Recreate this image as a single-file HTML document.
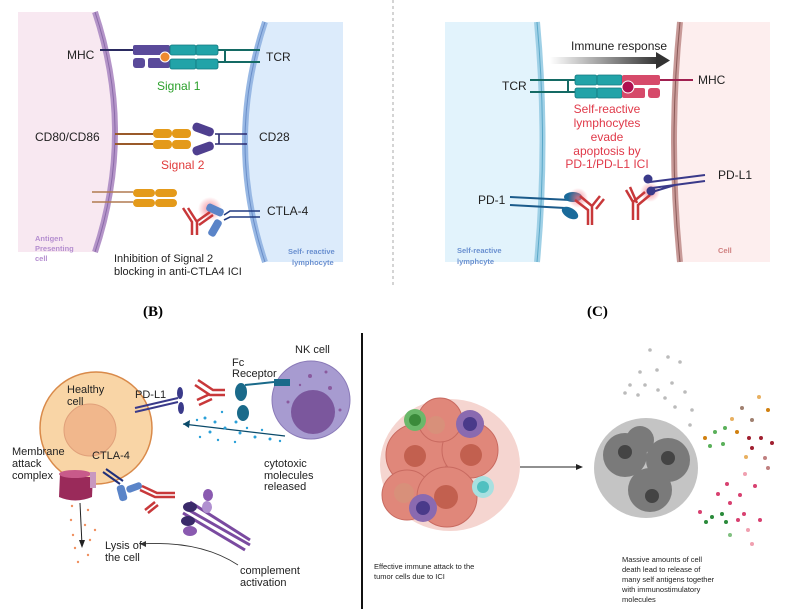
<!DOCTYPE html>
<html><head><meta charset="utf-8"><style>
html,body{margin:0;padding:0;background:#fff;width:800px;height:609px;overflow:hidden}
svg{display:block}
text{font-family:"Liberation Sans",sans-serif}
</style></head><body>
<svg width="800" height="609" viewBox="0 0 800 609" xmlns="http://www.w3.org/2000/svg">
<defs>
<linearGradient id="ar" x1="0" x2="1"><stop offset="0" stop-color="#fff"/><stop offset="1" stop-color="#333"/></linearGradient>
<radialGradient id="glow"><stop offset="0" stop-color="#f07080" stop-opacity=".8"/><stop offset="1" stop-color="#f07080" stop-opacity="0"/></radialGradient>
</defs>
<!-- Panel B -->
<path d="M95 12 Q135 132 95 252 L18 252 L18 12Z" fill="#f8e8f1"/>
<path d="M95 12 Q135 132 95 252" fill="none" stroke="#b494c8" stroke-width="6"/>
<path d="M95 12 Q135 132 95 252" fill="none" stroke="#8a6aa8" stroke-width="1"/>
<path d="M265 22 Q225 142 265 262 L343 262 L343 22Z" fill="#dcebfb"/>
<path d="M265 22 Q225 142 265 262" fill="none" stroke="#98b8e4" stroke-width="6"/>
<path d="M265 22 Q225 142 265 262" fill="none" stroke="#6a8ec8" stroke-width="1"/>
<line x1="100" y1="50" x2="133" y2="50" stroke="#2a2a60" stroke-width="2"/>
<rect x="133" y="45" width="37" height="10" rx="2" fill="#5a4a9a"/>
<rect x="133" y="58" width="12" height="10" rx="3" fill="#5a4a9a"/>
<rect x="148" y="58" width="22" height="10" rx="2" fill="#5a4a9a"/>
<rect x="170" y="45" width="26" height="10" rx="2" fill="#22a3a8" stroke="#137a80" stroke-width=".8"/>
<rect x="196" y="45" width="22" height="10" rx="2" fill="#22a3a8" stroke="#137a80" stroke-width=".8"/>
<rect x="170" y="59" width="26" height="10" rx="2" fill="#22a3a8" stroke="#137a80" stroke-width=".8"/>
<rect x="196" y="59" width="22" height="10" rx="2" fill="#22a3a8" stroke="#137a80" stroke-width=".8"/>
<circle cx="165" cy="57" r="5" fill="#ee8a30" stroke="#fff" stroke-width="1"/>
<path d="M218 50H260M218 62H260M225 50V62" stroke="#146a64" stroke-width="2" fill="none"/>
<text x="67" y="59" font-size="12" fill="#222">MHC</text>
<text x="266" y="61" font-size="12" fill="#222">TCR</text>
<text x="157" y="90" font-size="12" fill="#2aa02a">Signal 1</text>
<path d="M115 134H153M115 144H153" stroke="#9a5a2a" stroke-width="2"/>
<rect x="153" y="129" width="19" height="9" rx="4" fill="#e49a1a"/><rect x="172" y="129" width="19" height="9" rx="4" fill="#e49a1a"/>
<rect x="153" y="140" width="19" height="9" rx="4" fill="#e49a1a"/><rect x="172" y="140" width="19" height="9" rx="4" fill="#e49a1a"/>
<rect x="192" y="125" width="22" height="9" rx="4" fill="#4f3f8f" transform="rotate(20 203 130)"/>
<rect x="192" y="144" width="22" height="9" rx="4" fill="#4f3f8f" transform="rotate(-20 203 148)"/>
<path d="M215 134H247M215 144H247M219 134V144" stroke="#2a2a70" stroke-width="1.6" fill="none"/>
<text x="35" y="141" font-size="12" fill="#222">CD80/CD86</text>
<text x="259" y="141" font-size="12" fill="#222">CD28</text>
<text x="161" y="169" font-size="12" fill="#e03a3a">Signal 2</text>
<path d="M92 192H133M92 202H133" stroke="#b07a50" stroke-width="1.5"/>
<rect x="133" y="189" width="22" height="8" rx="4" fill="#e49a1a"/><rect x="155" y="189" width="22" height="8" rx="4" fill="#e49a1a"/>
<rect x="133" y="199" width="22" height="8" rx="4" fill="#e49a1a"/><rect x="155" y="199" width="22" height="8" rx="4" fill="#e49a1a"/>
<circle cx="210" cy="209" r="12" fill="url(#glow)"/>
<path d="M192 235V222L183 208M197 235V222L188 208M196 222L210 212M199 225L213 215" stroke="#c8383a" stroke-width="2.5" fill="none"/>
<rect x="206" y="206" width="18" height="8" rx="3" fill="#5a84c8" transform="rotate(25 215 210)"/>
<rect x="206" y="224" width="18" height="8" rx="3" fill="#5a84c8" transform="rotate(-60 215 228)"/>
<path d="M224 215L230 211H260M224 220L230 217H260" stroke="#203a80" stroke-width="1.6" fill="none"/>
<text x="267" y="215" font-size="12" fill="#222">CTLA-4</text>
<text font-size="7.5" font-weight="bold" fill="#b58ed0"><tspan x="35" y="241">Antigen</tspan><tspan x="35" y="251">Presenting</tspan><tspan x="35" y="261">cell</tspan></text>
<text font-size="7.5" font-weight="bold" fill="#6a90d0"><tspan x="288" y="254">Self- reactive</tspan><tspan x="292" y="265">lymphocyte</tspan></text>
<text font-size="11" fill="#222"><tspan x="114" y="262">Inhibition of Signal 2</tspan><tspan x="114" y="275">blocking in anti-CTLA4 ICI</tspan></text>
<line x1="393" y1="0" x2="393" y2="285" stroke="#aaa" stroke-width="1" stroke-dasharray="3,3"/>
<!-- Panel C -->
<path d="M445 22H537Q548 142 537 262H445Z" fill="#e2f3fc"/>
<path d="M537 22Q548 142 537 262" fill="none" stroke="#9fd0e6" stroke-width="6"/>
<path d="M537 22Q548 142 537 262" fill="none" stroke="#5aa8c8" stroke-width="1"/>
<path d="M680 22Q668 142 680 262H770V22Z" fill="#fdeeee"/>
<path d="M680 22Q668 142 680 262" fill="none" stroke="#c89a98" stroke-width="6"/>
<path d="M680 22Q668 142 680 262" fill="none" stroke="#8a5a58" stroke-width="1"/>
<rect x="550" y="57" width="108" height="7" fill="url(#ar)"/>
<path d="M656 52L670 60.5L656 69Z" fill="#333"/>
<text x="571" y="50" font-size="12" fill="#222">Immune response</text>
<path d="M530 80H575M530 92H575M568 80V92" stroke="#146a64" stroke-width="2" fill="none"/>
<rect x="575" y="75" width="22" height="10" rx="2" fill="#22a3a8" stroke="#137a80" stroke-width=".8"/>
<rect x="597" y="75" width="25" height="10" rx="2" fill="#22a3a8" stroke="#137a80" stroke-width=".8"/>
<rect x="575" y="88" width="22" height="10" rx="2" fill="#22a3a8" stroke="#137a80" stroke-width=".8"/>
<rect x="597" y="88" width="25" height="10" rx="2" fill="#22a3a8" stroke="#137a80" stroke-width=".8"/>
<rect x="622" y="75" width="38" height="10" rx="2" fill="#d64a6a"/>
<rect x="622" y="88" width="23" height="10" rx="2" fill="#d64a6a"/>
<rect x="648" y="88" width="12" height="10" rx="3" fill="#d64a6a"/>
<circle cx="628" cy="87" r="6" fill="#b01050" stroke="#fff"/>
<line x1="660" y1="80" x2="693" y2="80" stroke="#a02050" stroke-width="2"/>
<text x="502" y="90" font-size="12" fill="#222">TCR</text>
<text x="698" y="84" font-size="12" fill="#222">MHC</text>
<text font-size="12" fill="#e03a4a" text-anchor="middle"><tspan x="607" y="113">Self-reactive</tspan><tspan x="607" y="127">lymphocytes</tspan><tspan x="607" y="141">evade</tspan><tspan x="607" y="155">apoptosis by</tspan><tspan x="607" y="168">PD-1/PD-L1 ICI</tspan></text>
<path d="M510 197L570 200M510 205L565 208" stroke="#1a5a8a" stroke-width="2"/>
<ellipse cx="573" cy="197" rx="9" ry="5" fill="#1a6a9a"/>
<ellipse cx="570" cy="213" rx="9" ry="5" fill="#1a6a9a" transform="rotate(30 570 213)"/>
<circle cx="578" cy="198" r="10" fill="url(#glow)"/><circle cx="650" cy="192" r="10" fill="url(#glow)"/>
<path d="M575 200L588 210V225M580 196L592 206V225M592 206L600 196M596 209L604 199" stroke="#c8383a" stroke-width="2.5" fill="none"/>
<path d="M650 195L638 205V220M645 192L633 202V220M633 202L626 190M637 203L630 187" stroke="#c8383a" stroke-width="2.5" fill="none"/>
<path d="M650 182L705 175M652 188L705 181M652 192L675 185" stroke="#3a3a8a" stroke-width="2"/>
<circle cx="648" cy="179" r="4.5" fill="#3a3a8a"/><circle cx="651" cy="191" r="4.5" fill="#3a3a8a"/>
<text x="718" y="179" font-size="12" fill="#222">PD-L1</text>
<text x="478" y="204" font-size="12" fill="#222">PD-1</text>
<text font-size="7.5" font-weight="bold" fill="#6a90d0"><tspan x="457" y="253">Self-reactive</tspan><tspan x="457" y="264">lymphcyte</tspan></text>
<text x="718" y="253" font-size="7.5" font-weight="bold" fill="#d08080">Cell</text>
<text x="143" y="316" font-size="15" font-weight="bold" fill="#000" style="font-family:'Liberation Serif',serif">(B)</text>
<text x="587" y="316" font-size="15" font-weight="bold" fill="#000" style="font-family:'Liberation Serif',serif">(C)</text>
<!-- Bottom left -->
<line x1="362" y1="333" x2="362" y2="609" stroke="#111" stroke-width="2"/>
<circle cx="96" cy="428" r="56" fill="#f9d5a6" stroke="#d98a4a" stroke-width="1.5"/>
<circle cx="90" cy="430" r="26" fill="#f1b78c" stroke="#e0a07a"/>
<circle cx="311" cy="400" r="39" fill="#a79bd0" stroke="#8a7ab8"/>
<circle cx="313" cy="412" r="22" fill="#7b579d"/>
<g fill="#8a5a9e"><circle cx="310" cy="376" r="2"/><circle cx="326" cy="372" r="1.5"/><circle cx="330" cy="388" r="2"/><circle cx="288" cy="402" r="1.5"/><circle cx="340" cy="410" r="1.5"/><circle cx="300" cy="385" r="1.2"/></g>
<path d="M135 408L178 398M135 412L178 402" stroke="#3a3a8a" stroke-width="2"/>
<ellipse cx="180" cy="393" rx="3" ry="6" fill="#3a3a8a"/><ellipse cx="181" cy="408" rx="3" ry="6" fill="#3a3a8a"/>
<path d="M195 385L210 395H225M198 380L213 390H225M197 400L210 394M199 405L212 399" stroke="#c8383a" stroke-width="2.5" fill="none"/>
<rect x="274" y="379" width="16" height="7" fill="#1a6a8a"/>
<path d="M274 382L245 385" stroke="#1a6a8a" stroke-width="2"/>
<ellipse cx="241" cy="392" rx="6" ry="9" fill="#1a6a8a"/><ellipse cx="243" cy="413" rx="6" ry="8" fill="#1a6a8a"/>
<path d="M285 436L183 424" stroke="#0a4a6a" stroke-width="1.3"/><path d="M183 424L190 420L189 428Z" fill="#0a4a6a"/>
<g fill="#2aa0d8"><circle cx="197" cy="420" r="1.2"/><circle cx="205" cy="418" r="1.5"/><circle cx="215" cy="422" r="1.5"/><circle cx="225" cy="428" r="1.5"/><circle cx="240" cy="433" r="1.5"/><circle cx="255" cy="437" r="1.5"/><circle cx="270" cy="439" r="1.5"/><circle cx="280" cy="441" r="1.2"/><circle cx="200" cy="437" r="1.2"/><circle cx="218" cy="440" r="1.2"/><circle cx="235" cy="442" r="1.2"/><circle cx="247" cy="428" r="1.2"/><circle cx="262" cy="430" r="1.2"/><circle cx="222" cy="412" r="1.2"/><circle cx="236" cy="422" r="1.5"/><circle cx="210" cy="432" r="1.5"/></g>
<path d="M60 474L70 477L90 477L93 474L92 497Q75 504 59 497Z" fill="#9a2a5a"/>
<ellipse cx="75" cy="474" rx="16" ry="4" fill="#c85a8a"/>
<rect x="90" y="472" width="6" height="16" fill="#c898c0"/>
<path d="M103 472L120 484M106 469L123 481" stroke="#20307a" stroke-width="2"/>
<rect x="118" y="485" width="8" height="16" rx="3" fill="#5a84c8" transform="rotate(-15 122 493)"/>
<rect x="126" y="484" width="16" height="7" rx="3" fill="#5a84c8" transform="rotate(-20 134 487)"/>
<path d="M140 490L155 497H175M142 486L157 493H175M155 502L145 510M158 505L148 513" stroke="#c8383a" stroke-width="2.5" fill="none"/>
<path d="M185 508L250 545M183 513L245 550M190 502L250 540" stroke="#7a4aa0" stroke-width="3"/>
<ellipse cx="190" cy="507" rx="7" ry="5" fill="#3a2a6a"/><ellipse cx="188" cy="521" rx="7" ry="5" fill="#3a2a6a"/>
<ellipse cx="208" cy="495" rx="5" ry="6" fill="#8a5ab0"/><ellipse cx="207" cy="507" rx="5" ry="6" fill="#b090d0"/><ellipse cx="190" cy="531" rx="7" ry="5" fill="#8a5ab0"/>
<path d="M80 503L82 545" stroke="#222" stroke-width="1"/><path d="M79 540L82 548L85 540Z" fill="#222"/>
<g fill="#f09060"><circle cx="72" cy="506" r="1.2"/><circle cx="88" cy="510" r="1.2"/><circle cx="71" cy="520" r="1.2"/><circle cx="85" cy="525" r="1.2"/><circle cx="73" cy="535" r="1.2"/><circle cx="90" cy="540" r="1.2"/><circle cx="75" cy="548" r="1.2"/><circle cx="88" cy="555" r="1.2"/><circle cx="78" cy="562" r="1.2"/><circle cx="95" cy="530" r="1.2"/></g>
<path d="M238 565Q200 540 140 544" stroke="#333" stroke-width=".8" fill="none"/><path d="M140 544L146 541L146 547Z" fill="#333"/>
<text font-size="11" fill="#222"><tspan x="295" y="353">NK cell</tspan><tspan x="232" y="366">Fc</tspan><tspan x="232" y="377">Receptor</tspan><tspan x="67" y="393">Healthy</tspan><tspan x="67" y="405">cell</tspan><tspan x="135" y="398">PD-L1</tspan><tspan x="12" y="455">Membrane</tspan><tspan x="12" y="467">attack</tspan><tspan x="12" y="479">complex</tspan><tspan x="92" y="459">CTLA-4</tspan><tspan x="264" y="467">cytotoxic</tspan><tspan x="264" y="479">molecules</tspan><tspan x="264" y="490">released</tspan><tspan x="105" y="549">Lysis of</tspan><tspan x="105" y="561">the cell</tspan><tspan x="240" y="574">complement</tspan><tspan x="240" y="586">activation</tspan></text>
<!-- Bottom right -->
<ellipse cx="450" cy="465" rx="70" ry="66" fill="#f5d5d0"/>
<g fill="#e0877a" stroke="#c86a60" stroke-width="1"><circle cx="417" cy="455" r="31"/><circle cx="470" cy="450" r="28"/><circle cx="407" cy="495" r="25"/><circle cx="447" cy="497" r="30"/><circle cx="440" cy="420" r="22"/></g>
<g fill="#c2604f"><circle cx="415" cy="456" r="11"/><circle cx="471" cy="455" r="11"/><circle cx="446" cy="497" r="12"/><circle cx="404" cy="493" r="10" fill="#d8907a"/><circle cx="436" cy="425" r="9" fill="#d8907a"/></g>
<circle cx="415" cy="420" r="11" fill="#6ab86a"/><circle cx="415" cy="420" r="6" fill="#3a8a3a"/>
<circle cx="470" cy="424" r="14" fill="#8a6ab0"/><circle cx="470" cy="424" r="7" fill="#4a3a8a"/>
<circle cx="483" cy="487" r="11" fill="#a8e0e0"/><circle cx="483" cy="487" r="6" fill="#50c0c0"/>
<circle cx="423" cy="508" r="14" fill="#8a6ab0"/><circle cx="423" cy="508" r="7" fill="#4a3a8a"/>
<line x1="520" y1="467" x2="578" y2="467" stroke="#222" stroke-width="1"/><path d="M576 464L583 467L576 470Z" fill="#222"/>
<ellipse cx="646" cy="468" rx="52" ry="50" fill="#c4c4c4"/>
<g fill="#7a7a7a"><circle cx="625" cy="455" r="22"/><circle cx="668" cy="460" r="22"/><circle cx="650" cy="490" r="22"/><circle cx="640" cy="440" r="14"/></g>
<g fill="#444"><circle cx="625" cy="452" r="7"/><circle cx="668" cy="458" r="7"/><circle cx="652" cy="496" r="7"/></g>
<g fill="#bbb"><circle cx="650" cy="350" r="1.8"/><circle cx="668" cy="357" r="1.8"/><circle cx="640" cy="372" r="1.8"/><circle cx="657" cy="370" r="1.8"/><circle cx="672" cy="383" r="1.8"/><circle cx="645" cy="385" r="1.8"/><circle cx="630" cy="385" r="1.8"/><circle cx="625" cy="393" r="1.8"/><circle cx="658" cy="390" r="1.8"/><circle cx="685" cy="392" r="1.8"/><circle cx="692" cy="410" r="1.8"/><circle cx="665" cy="398" r="1.8"/><circle cx="675" cy="407" r="1.8"/><circle cx="638" cy="395" r="1.8"/><circle cx="690" cy="425" r="1.8"/><circle cx="680" cy="362" r="1.8"/></g>
<g><circle cx="759" cy="397" r="2" fill="#e8b060"/><circle cx="768" cy="410" r="2" fill="#d08010"/><circle cx="742" cy="408" r="2" fill="#a08070"/><circle cx="752" cy="420" r="2" fill="#a08070"/><circle cx="732" cy="419" r="2" fill="#e8b060"/><circle cx="705" cy="438" r="2" fill="#d08010"/><circle cx="715" cy="432" r="2" fill="#5ab05a"/><circle cx="725" cy="428" r="2" fill="#5ab05a"/><circle cx="723" cy="444" r="2" fill="#5ab05a"/><circle cx="737" cy="432" r="2" fill="#d08010"/><circle cx="749" cy="438" r="2" fill="#a02030"/><circle cx="761" cy="438" r="2" fill="#a02030"/><circle cx="772" cy="443" r="2" fill="#a02030"/><circle cx="752" cy="448" r="2" fill="#a02030"/><circle cx="746" cy="457" r="2" fill="#e8b060"/><circle cx="765" cy="458" r="2" fill="#c08080"/><circle cx="768" cy="468" r="2" fill="#c08080"/><circle cx="710" cy="446" r="2" fill="#5ab05a"/></g>
<g><circle cx="745" cy="474" r="2" fill="#f0a0b0"/><circle cx="727" cy="484" r="2" fill="#d84070"/><circle cx="755" cy="486" r="2" fill="#d84070"/><circle cx="740" cy="495" r="2" fill="#d84070"/><circle cx="718" cy="494" r="2" fill="#d84070"/><circle cx="730" cy="503" r="2" fill="#d84070"/><circle cx="700" cy="512" r="2" fill="#d84070"/><circle cx="712" cy="517" r="2" fill="#2a8a3a"/><circle cx="722" cy="514" r="2" fill="#2a8a3a"/><circle cx="706" cy="522" r="2" fill="#2a8a3a"/><circle cx="726" cy="522" r="2" fill="#2a8a3a"/><circle cx="744" cy="514" r="2" fill="#d84070"/><circle cx="760" cy="520" r="2" fill="#d84070"/><circle cx="748" cy="530" r="2" fill="#f0a0b0"/><circle cx="730" cy="535" r="2" fill="#80c080"/><circle cx="752" cy="544" r="2" fill="#f0a0b0"/><circle cx="738" cy="520" r="2" fill="#d84070"/></g>
<text font-size="7.5" fill="#222"><tspan x="374" y="569">Effective immune attack to the</tspan><tspan x="374" y="579">tumor cells due to ICI</tspan></text>
<text font-size="7.5" fill="#222"><tspan x="622" y="562">Massive amounts of cell</tspan><tspan x="622" y="572">death lead to release of</tspan><tspan x="622" y="582">many self antigens together</tspan><tspan x="622" y="592">with immunostimulatory</tspan><tspan x="622" y="602">molecules</tspan></text>
</svg>
</body></html>
